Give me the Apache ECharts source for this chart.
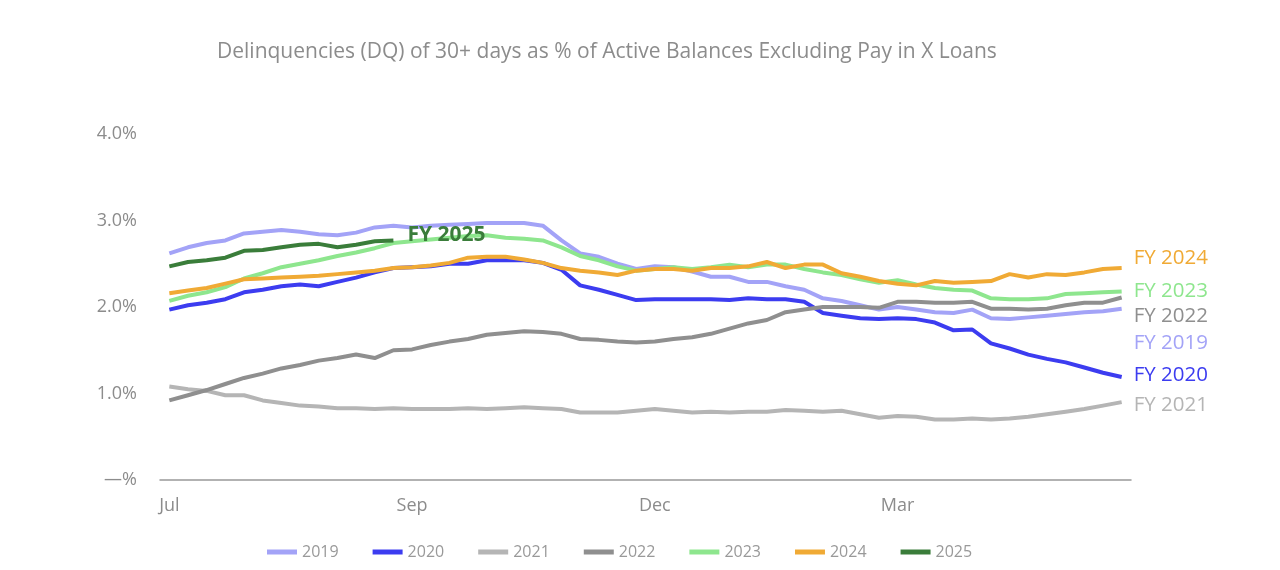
<!DOCTYPE html>
<html><head><meta charset="utf-8">
<script src="https://cdn.jsdelivr.net/npm/echarts@6/dist/echarts.min.js"></script>
<style>html,body{margin:0;padding:0;background:#fff}#chart{width:1280px;height:570px}</style>
</head><body><div id="chart"></div>
<script>
// Weekly categories across the fiscal year (Jul -> Jun)
const weeks = ['W1','W2','W3','W4','W5','W6','W7','W8','W9','W10','W11','W12','W13','W14','W15','W16','W17','W18','W19','W20','W21','W22','W23','W24','W25','W26','W27','W28','W29','W30','W31','W32','W33','W34','W35','W36','W37','W38','W39','W40','W41','W42','W43','W44','W45','W46','W47','W48','W49','W50','W51','W52'];
const xTickIndex = [0, 13, 26, 39];
const xTickText = ['Jul', 'Sep', 'Dec', 'Mar'];
const yTickValues = [0, 1, 2, 3, 4];
const yTickText = ['—%', '1.0%', '2.0%', '3.0%', '4.0%'];

const fy2019 = [2.62,2.69,2.74,2.77,2.85,2.87,2.89,2.87,2.84,2.83,2.86,2.92,2.94,2.92,2.94,2.95,2.96,2.97,2.97,2.97,2.94,2.77,2.62,2.58,2.50,2.44,2.47,2.46,2.41,2.35,2.35,2.29,2.29,2.24,2.20,2.10,2.07,2.02,1.97,2.00,1.97,1.94,1.93,1.97,1.87,1.86,1.88,1.90,1.92,1.94,1.95,1.98];
const fy2020 = [1.97,2.02,2.05,2.09,2.17,2.20,2.24,2.26,2.24,2.29,2.34,2.40,2.45,2.46,2.47,2.50,2.50,2.54,2.54,2.54,2.51,2.43,2.25,2.20,2.14,2.08,2.09,2.09,2.09,2.09,2.08,2.10,2.09,2.09,2.06,1.93,1.90,1.87,1.86,1.87,1.86,1.82,1.73,1.74,1.58,1.52,1.45,1.40,1.36,1.30,1.24,1.19];
const fy2021 = [1.08,1.05,1.03,0.98,0.98,0.92,0.89,0.86,0.85,0.83,0.83,0.82,0.83,0.82,0.82,0.82,0.83,0.82,0.83,0.84,0.83,0.82,0.78,0.78,0.78,0.80,0.82,0.80,0.78,0.79,0.78,0.79,0.79,0.81,0.80,0.79,0.80,0.76,0.72,0.74,0.73,0.70,0.70,0.71,0.70,0.71,0.73,0.76,0.79,0.82,0.86,0.90];
const fy2022 = [0.92,0.98,1.04,1.11,1.18,1.23,1.29,1.33,1.38,1.41,1.45,1.41,1.50,1.51,1.56,1.60,1.63,1.68,1.70,1.72,1.71,1.69,1.63,1.62,1.60,1.59,1.60,1.63,1.65,1.69,1.75,1.81,1.85,1.94,1.97,2.00,2.00,2.00,1.99,2.06,2.06,2.05,2.05,2.06,1.98,1.98,1.97,1.98,2.02,2.05,2.05,2.11];
const fy2023 = [2.07,2.13,2.17,2.23,2.33,2.39,2.46,2.50,2.54,2.59,2.63,2.68,2.74,2.76,2.78,2.80,2.82,2.83,2.80,2.79,2.77,2.69,2.59,2.54,2.47,2.42,2.44,2.46,2.44,2.46,2.49,2.46,2.49,2.49,2.44,2.40,2.37,2.32,2.28,2.31,2.26,2.22,2.20,2.19,2.10,2.09,2.09,2.10,2.15,2.16,2.17,2.18];
const fy2024 = [2.16,2.19,2.22,2.27,2.32,2.33,2.34,2.35,2.36,2.38,2.40,2.42,2.45,2.46,2.48,2.51,2.57,2.58,2.58,2.55,2.51,2.45,2.42,2.40,2.37,2.42,2.44,2.44,2.42,2.45,2.45,2.47,2.52,2.45,2.49,2.49,2.39,2.35,2.30,2.27,2.25,2.30,2.28,2.29,2.30,2.38,2.34,2.38,2.37,2.40,2.44,2.45];
const fy2025 = [2.47,2.52,2.54,2.57,2.65,2.66,2.69,2.72,2.73,2.69,2.72,2.76,2.77];

const seriesNames = ['2019','2020','2021','2022','2023','2024','2025'];
const seriesData = [fy2019, fy2020, fy2021, fy2022, fy2023, fy2024, fy2025];
const endLabelText = ['FY 2019','FY 2020','FY 2021','FY 2022','FY 2023','FY 2024','FY 2025'];

const colors = ['#a3a3f7','#3c3cf0','#b5b5b5','#8f8f8f','#8ee68e','#f0aa35','#3a7d3a'];
const labelOffsets = [[0,34],[0,-2],[0,3],[0,19],[0,0],[0,-10],[0,-5]];
const FONT = '"Open Sans", sans-serif';
const GREY = '#8c8c8c';

const chart = echarts.init(document.getElementById('chart'), null, {renderer: 'canvas'});
chart.setOption({
  animation: false,
  color: colors,
  title: {
    text: 'Delinquencies (DQ) of 30+ days as % of Active Balances Excluding Pay in X Loans',
    left: 212, top: 37,
    textStyle: {fontFamily: FONT, fontSize: 21, fontWeight: 'normal', color: GREY}
  },
  grid: {left: 160, right: 149, top: 134, bottom: 90, containLabel: false},
  legend: {
    bottom: 5, left: 262,
    icon: 'rect', itemWidth: 30, itemHeight: 5, itemGap: 34,
    textStyle: {fontFamily: FONT, fontSize: 16, color: '#999'},
    data: seriesNames
  },
  xAxis: {
    type: 'category', data: weeks, boundaryGap: true,
    axisLine: {lineStyle: {color: '#999', width: 1.5}},
    axisTick: {show: false},
    axisLabel: {
      interval: (i) => xTickIndex.indexOf(i) >= 0,
      formatter: (v, i) => { const k = xTickIndex.indexOf(i); return k >= 0 ? xTickText[k] : ''; },
      margin: 17, fontFamily: FONT, fontSize: 18, color: GREY
    },
    splitLine: {show: false}
  },
  yAxis: {
    type: 'value', min: 0, max: 4, interval: 1,
    axisLine: {show: false}, axisTick: {show: false}, splitLine: {show: false},
    axisLabel: {
      formatter: (v) => { const k = yTickValues.indexOf(v); return k >= 0 ? yTickText[k] : ''; },
      margin: 23, fontFamily: FONT, fontSize: 18, color: GREY
    }
  },
  series: seriesNames.map((name, i) => ({
    name: name, type: 'line', data: seriesData[i],
    symbol: 'none', smooth: false,
    lineStyle: {width: 4, color: colors[i]},
    itemStyle: {color: colors[i]},
    endLabel: {
      show: true, formatter: endLabelText[i], distance: i === 6 ? 14 : 12,
      offset: labelOffsets[i],
      fontFamily: FONT, fontSize: i === 6 ? 21 : 20.5, color: colors[i],
      fontWeight: i === 6 ? 'bold' : 'normal'
    },
    emphasis: {disabled: true}
  }))
});
</script></body></html>
